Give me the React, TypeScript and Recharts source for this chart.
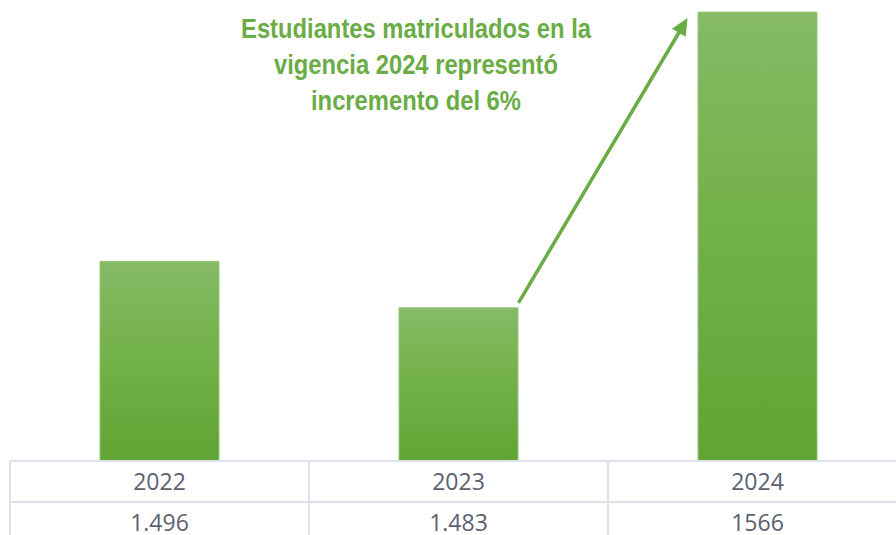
import * as React from 'react';
import { Bar, BarChart, ReferenceLine, XAxis, YAxis } from 'recharts';

const years = ['2022', '2023', '2024'];
const students = [1496, 1483, 1566];
const valueLabels = ['1.496', '1.483', '1566'];
const titleLines = [
  'Estudiantes matriculados en la',
  'vigencia 2024 representó',
  'incremento del 6%',
];

const GREEN = '#6aac45';
const GRID = '#dde2ea';
const TEXT = '#5b6170';

const data = years.map((y, i) => ({ year: y, valor: students[i], etiqueta: valueLabels[i] }));

function TablaTick(props: any) {
  const { x, y, index, width, visibleTicksCount } = props;
  const celda = width && visibleTicksCount ? width / visibleTicksCount : 299;
  const izq = x - celda / 2;
  const der = x + celda / 2;
  return (
    <g>
      <line x1={izq} y1={y} x2={der} y2={y} stroke={GRID} strokeWidth={2} />
      <line x1={izq} y1={y + 41} x2={der} y2={y + 41} stroke={GRID} strokeWidth={2} />
      {index === 0 && <line x1={izq} y1={y} x2={izq} y2={y + 90} stroke={GRID} strokeWidth={2} />}
      <line x1={der} y1={y} x2={der} y2={y + 90} stroke={GRID} strokeWidth={2} />
      <text
        x={x}
        y={y + 29}
        textAnchor="middle"
        fill={TEXT}
        fontSize={23}
        fontFamily="'Open Sans', 'Noto Sans', sans-serif"
      >
        {years[index]}
      </text>
      <text
        x={x}
        y={y + 70}
        textAnchor="middle"
        fill={TEXT}
        fontSize={23}
        fontFamily="'Open Sans', 'Noto Sans', sans-serif"
      >
        {data[index]?.etiqueta}
      </text>
    </g>
  );
}

function Flecha(props: any) {
  const { x1, y1, x2, y2 } = props;
  if (x1 == null || x2 == null) return null;
  // arrancar junto al borde derecho de 2023 y terminar antes de la barra 2024
  const ax = x1 + 60;
  const ay = y1 - 5;
  const bx = x2 - 70;
  const by = y2 + 6;
  const dx = bx - ax;
  const dy = by - ay;
  const len = Math.sqrt(dx * dx + dy * dy);
  const ux = dx / len;
  const uy = dy / len;
  const largo = 17;
  const ancho = 8;
  const baseX = bx - ux * largo;
  const baseY = by - uy * largo;
  const punta = `${bx},${by} ${baseX - uy * ancho},${baseY + ux * ancho} ${baseX + uy * ancho},${baseY - ux * ancho}`;
  return (
    <g>
      <line x1={ax} y1={ay} x2={baseX + ux * 2} y2={baseY + uy * 2} stroke={GREEN} strokeWidth={3.5} />
      <polygon points={punta} fill={GREEN} />
    </g>
  );
}

export default function App() {
  return (
    <div style={{ position: 'relative', width: 896, height: 535, overflow: 'hidden', background: '#fff' }}>
      <style>{'body{margin:0;overflow:hidden;}'}</style>
      <BarChart
        width={907}
        height={535}
        data={data}
        margin={{ top: 0, right: 0, left: 10, bottom: 0 }}
      >
        <defs>
          <linearGradient id="gradVerde" x1="0" y1="0" x2="0" y2="1">
            <stop offset="0%" stopColor="#86ba67" />
            <stop offset="50%" stopColor="#71b146" />
            <stop offset="100%" stopColor="#62a335" />
          </linearGradient>
        </defs>
        <XAxis
          dataKey="year"
          height={74}
          axisLine={false}
          tickLine={false}
          tickSize={0}
          tickMargin={0}
          interval={0}
          tick={<TablaTick />}
        />
        <YAxis hide domain={[1440, 1569.4]} allowDataOverflow />
        <Bar
          dataKey="valor"
          barSize={119}
          fill="url(#gradVerde)"
          stroke="#93c775"
          strokeWidth={1}
          isAnimationActive={false}
        />
        <ReferenceLine
          segment={[
            { x: '2023', y: students[1] },
            { x: '2024', y: students[2] },
          ]}
          ifOverflow="visible"
          shape={<Flecha />}
        />
      </BarChart>
      <div
        style={{
          position: 'absolute',
          left: 166,
          top: 11,
          width: 500,
          textAlign: 'center',
          color: GREEN,
          fontFamily: "'Liberation Sans', Arial, sans-serif",
          fontWeight: 'bold',
          fontSize: 27,
          lineHeight: '36px',
          transform: 'scaleX(0.88)',
          transformOrigin: '250px 0',
        }}
      >
        {titleLines.map((l) => (
          <div key={l}>{l}</div>
        ))}
      </div>
    </div>
  );
}
